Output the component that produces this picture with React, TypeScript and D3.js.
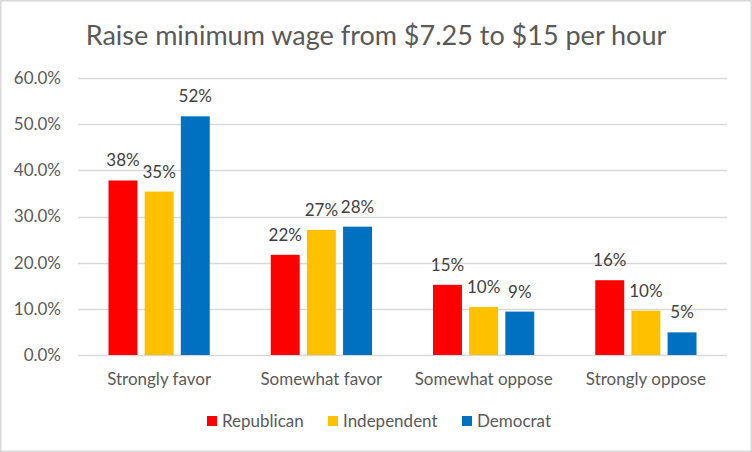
import * as React from 'react';
import * as d3 from 'd3';

const categories = ['Strongly favor', 'Somewhat favor', 'Somewhat oppose', 'Strongly oppose'];
const parties = ['Republican', 'Independent', 'Democrat'];
const republican = [37.8, 21.7, 15.2, 16.2];
const independent = [35.4, 27.1, 10.4, 9.6];
const democrat = [51.7, 27.8, 9.4, 4.9];
const yTicks = [0, 10, 20, 30, 40, 50, 60];
const colors = ['#FF0000', '#FFC000', '#0070C0'];

const width = 752;
const height = 452;
const marginLeft = 78;
const marginRight = 25;
const marginTop = 78;
const marginBottom = 97;
const font = 'Lato, "Open Sans", sans-serif';

const App: React.FC = () => {
  const series = [republican, independent, democrat];
  const x0 = d3.scaleBand().domain(categories).range([marginLeft, width - marginRight]).paddingInner(0).paddingOuter(0);
  const x1 = d3.scaleBand().domain(parties).range([30.5, x0.bandwidth() - 30.5]).paddingInner(0.2).paddingOuter(0);
  const y = d3.scaleLinear().domain([0, 60]).range([height - marginBottom, marginTop]);

  return (
    <svg width={width} height={height} style={{ position: 'absolute', left: 0, top: 0 }} fontFamily={font}>
      <rect x={0.75} y={0.75} width={width - 1.5} height={height - 1.5} fill="#fff" stroke="#d9d9d9" strokeWidth={1.5} />
      <text x={376} y={45} textAnchor="middle" fontSize={27} fill="#595959">
        Raise minimum wage from $7.25 to $15 per hour
      </text>
      <g>
        {yTicks.map((t) => (
          <g key={t}>
            <line x1={marginLeft} x2={width - marginRight} y1={Math.round(y(t)) + 0.5} y2={Math.round(y(t)) + 0.5} stroke="#d9d9d9" strokeWidth={1.5} />
            <text x={61} y={y(t)} dy="0.35em" textAnchor="end" fontSize={17} fill="#595959">
              {t.toFixed(1)}%
            </text>
          </g>
        ))}
      </g>
      {categories.map((c, ci) => (
        <g key={c} transform={`translate(${x0(c)},0)`}>
          {parties.map((p, pi) => {
            const v = series[pi][ci];
            const bx = x1(p) || 0;
            return (
              <g key={p}>
                <rect x={bx} y={y(v)} width={x1.bandwidth()} height={y(0) - y(v)} fill={colors[pi]} />
                <text x={bx + x1.bandwidth() / 2} y={y(v) - 14} textAnchor="middle" fontSize={17} fill="#404040">
                  {Math.round(v)}%
                </text>
              </g>
            );
          })}
          <text x={x0.bandwidth() / 2} y={385} textAnchor="middle" fontSize={17} fill="#595959">
            {c}
          </text>
        </g>
      ))}
      <g>
        {parties.map((p, i) => {
          const lx = [207, 328, 462][i];
          return (
            <g key={p}>
              <rect x={lx} y={416} width={10} height={10} fill={colors[i]} />
              <text x={lx + 15} y={426.5} fontSize={17} fill="#595959">
                {p}
              </text>
            </g>
          );
        })}
      </g>
    </svg>
  );
};

export default App;
